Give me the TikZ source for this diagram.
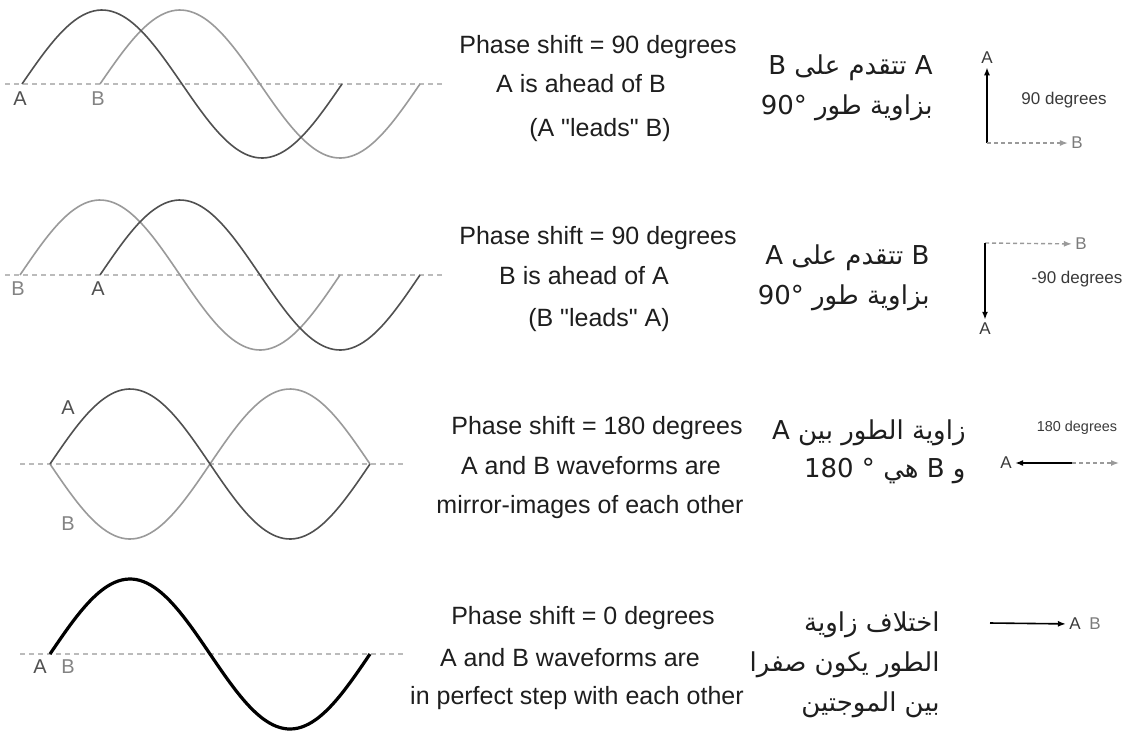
\documentclass[tikz,border=0pt]{standalone}
\usepackage{fontspec}
\setmainfont{Liberation Sans}[Ligatures=TeXOff]
\newfontfamily\arabicfont[Script=Arabic]{DejaVu Sans}
\TeXXeTstate=1
\usetikzlibrary{arrows.meta}
\definecolor{waveA}{HTML}{505050}
\definecolor{waveB}{HTML}{9A9A9A}
\definecolor{axisc}{HTML}{BBBBBB}
\definecolor{txt}{HTML}{1E1E1E}
\definecolor{phc}{HTML}{3A3A3A}
\begin{document}
\begin{tikzpicture}[x=0.5pt,y=-0.5pt,
  axis/.style={axisc, dash pattern=on 2.5pt off 2pt, line width=0.6pt},
  wa/.style={waveA, line width=0.8pt},
  wb/.style={waveB, line width=0.8pt},
  wab/.style={black, line width=1.6pt},
  labA/.style={font=\fontsize{10}{12}\selectfont, waveA, inner sep=0pt},
  labB/.style={font=\fontsize{10}{12}\selectfont, waveB!85!black, inner sep=0pt},
  en/.style={font=\fontsize{12.5}{15}\selectfont, txt, inner sep=0pt, text height=9pt, text depth=2.6pt},
  ar/.style={font=\arabicfont\fontsize{13}{16}\selectfont, txt, inner sep=0pt},
  ph/.style={font=\fontsize{8.5}{10}\selectfont, phc, inner sep=1.5pt},
  phb/.style={font=\fontsize{8.5}{10}\selectfont, waveB!80!black, inner sep=1.5pt},
  vec/.style={black, line width=0.8pt, -{Latex[length=4pt,width=3pt]}},
  vecd/.style={waveB, line width=0.7pt, dash pattern=on 2pt off 1.5pt, -{Latex[length=4pt,width=3pt]}}
]
\useasboundingbox (0,0) rectangle (1126,730);
\fill[white] (0,0) rectangle (1126,730);

% ---------- Row 1 ----------
\draw[axis] (5,84) -- (442,84);
\draw[wb] plot[domain=0:320, samples=90, smooth] ({100+\x},{84-74*sin(\x*1.125)});
\draw[wa] plot[domain=0:320, samples=90, smooth] ({22+\x},{84-74*sin(\x*1.125)});
\node[labA] (w1A) at (20,99) {A};
\node[labB] (w1B) at (98,99) {B};

\node[en] (t1a) at (598,47) {Phase shift = 90 degrees};
\node[en] (t1b) at (581,86) {A is ahead of B};
\node[en] (t1c) at (600,130) {(A "leads" B)};

\node[ar, anchor=east] (r1a) at (933,68) {\beginR A تتقدم على B\endR};
\node[ar, anchor=east] (r1b) at (933,108) {\beginR بزاوية طور 90°\endR};

\coordinate (o1) at (987,143);
\node[ph] (p1A) at (987,58) {A};
\node[phb] (p1B) at (1077,143) {B};
\draw[vec] (o1) -- (p1A);
\draw[vecd] (o1) -- (p1B);
\node[ph] (p1d) at (1064,100) {90 degrees};

% ---------- Row 2 ----------
\draw[axis] (5,275) -- (442,275);
\draw[wb] plot[domain=0:320, samples=90, smooth] ({20+\x},{275-75*sin(\x*1.125)});
\draw[wa] plot[domain=0:320, samples=90, smooth] ({100+\x},{275-75*sin(\x*1.125)});
\node[labB] (w2B) at (18,289) {B};
\node[labA] (w2A) at (98,289) {A};

\node[en] (t2a) at (598,238) {Phase shift = 90 degrees};
\node[en] (t2b) at (584,278) {B is ahead of A};
\node[en] (t2c) at (599,320) {(B "leads" A)};

\node[ar, anchor=east] (r2a) at (930,258) {\beginR B تتقدم على A\endR};
\node[ar, anchor=east] (r2b) at (930,298) {\beginR بزاوية طور 90°\endR};

\coordinate (o2) at (985,243);
\node[phb] (p2B) at (1081,244) {B};
\node[ph] (p2A) at (985,329) {A};
\draw[vecd] (o2) -- (p2B);
\draw[vec] (o2) -- (p2A);
\node[ph] (p2d) at (1077,279) {-90 degrees};

% ---------- Row 3 ----------
\draw[axis] (20,464) -- (403,464);
\draw[wb] plot[domain=0:320, samples=90, smooth] ({50+\x},{464+75*sin(\x*1.125)});
\draw[wa] plot[domain=0:320, samples=90, smooth] ({50+\x},{464-75*sin(\x*1.125)});
\node[labA] (w3A) at (68,408) {A};
\node[labB] (w3B) at (68,524) {B};

\node[en] (t3a) at (597,428) {Phase shift = 180 degrees};
\node[en] (t3b) at (591,468) {A and B waveforms are};
\node[en] (t3c) at (590,507) {mirror-images of each other};

\node[ar, anchor=east] (r3a) at (966,433) {\beginR زاوية الطور بين A\endR};
\node[ar, anchor=east] (r3b) at (966,471) {\beginR و B هي ° 180\endR};

\coordinate (o3) at (1072,463);
\coordinate (e3) at (1119,463);
\node[ph] (p3A) at (1006,463) {A};
\draw[vec] (o3) -- (p3A);
\draw[vecd] (o3) -- (e3);
\node[ph, font=\fontsize{7.2}{9}\selectfont] (p3d) at (1077,428) {180 degrees};

% ---------- Row 4 ----------
\draw[axis] (20,654) -- (403,654);
\draw[wab] plot[domain=0:320, samples=90, smooth] ({50+\x},{654-75*sin(\x*1.125)});
\node[labA] (w4A) at (40,667) {A};
\node[labB] (w4B) at (68,667) {B};

\node[en] (t4a) at (583,618) {Phase shift = 0 degrees};
\node[en] (t4b) at (570,660) {A and B waveforms are};
\node[en] (t4c) at (577,698) {in perfect step with each other};

\node[ar, anchor=east] (r4a) at (940,625) {\beginR اختلاف زاوية\endR};
\node[ar, anchor=east] (r4b) at (940,665) {\beginR الطور يكون صفرا\endR};
\node[ar, anchor=east] (r4c) at (940,705) {\beginR بين الموجتين\endR};

\coordinate (o4) at (990,623);
\node[ph] (p4A) at (1075,624) {A};
\node[phb] (p4B) at (1095,624) {B};
\draw[vec] (o4) -- (p4A);
\end{tikzpicture}
\end{document}
